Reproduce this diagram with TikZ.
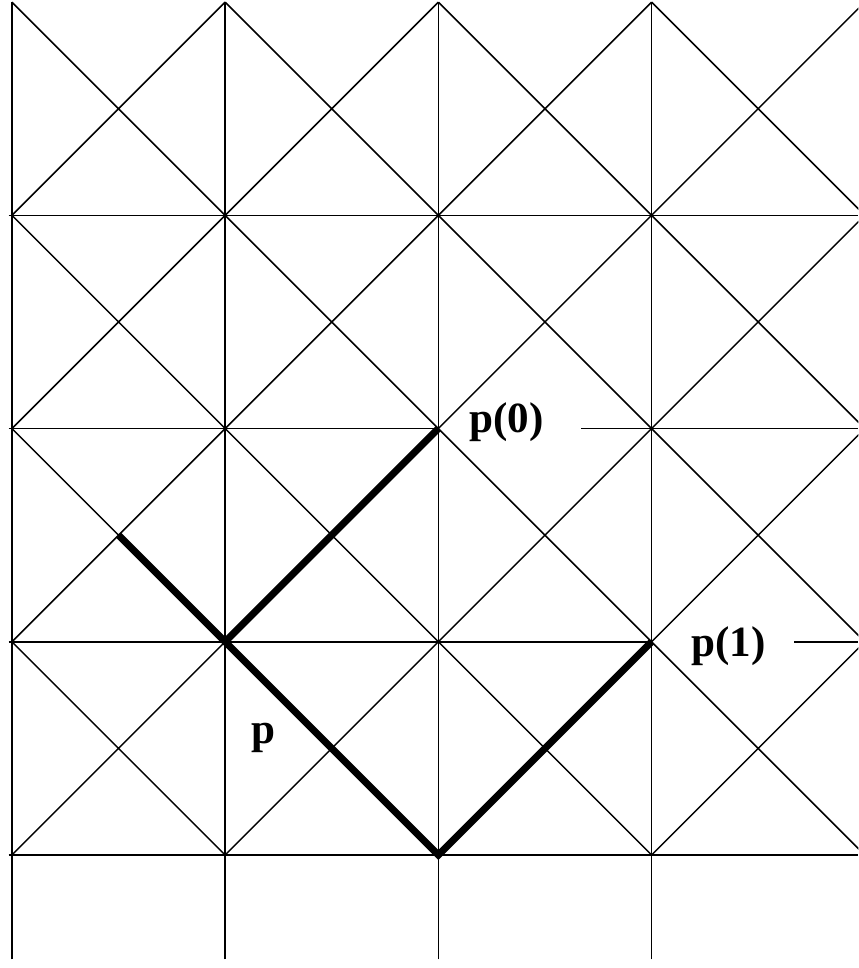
\documentclass[tikz,border=0pt]{standalone}
\usepackage{fontspec}
\setmainfont{Liberation Serif}
\usetikzlibrary{positioning,calc}
\tikzset{
  gridline/.style = {line width=0.4pt},
  pathline/.style = {line width=1.9pt},
  lbl/.style      = {font=\fontsize{11.5}{13}\selectfont\bfseries, inner sep=1pt},
}
\begin{document}
\begin{tikzpicture}[x=2cm,y=2cm]
  \useasboundingbox (-0.056,-0.53) rectangle (3.97,4.01);
  % diagonals of every cell
  \begin{scope}
    \clip (-0.056,-0.53) rectangle (3.97,4.01);
    \foreach \i in {0,...,3}
      \foreach \j in {0,...,3}
        \draw[gridline] (\i,\j) -- ++(1,1) (\i,\j+1) -- ++(1,-1);
  \end{scope}
  % vertical lines
  \foreach \i in {0,...,3}
    \draw[gridline] (\i,-0.49) -- (\i,4);
  % horizontal lines
  \draw[gridline] (-0.015,0) -- (3.97,0);
  \draw[gridline] (-0.015,1) -- (3,1) (3.67,1) -- (3.97,1);
  \draw[gridline] (-0.015,2) -- (2,2) (2.67,2) -- (3.97,2);
  \draw[gridline] (-0.015,3) -- (3.97,3);
  % the path p
  \coordinate (start) at (0.5,1.5);
  \coordinate (knee) at (1,1);
  \coordinate (low) at (2,0);
  \coordinate (p1) at (3,1);
  \coordinate (p0) at (2,2);
  \draw[pathline] (start) -- (knee) -- (low) -- (p1);
  \draw[pathline] (knee) -- (p0);
  \node[lbl] (lp0) at (2.32,2.03) {p(0)};
  \node[lbl] (lp1) at (3.36,0.98) {p(1)};
  \node[lbl] (lp) at (1.18,0.55) {p};
\end{tikzpicture}
\end{document}
